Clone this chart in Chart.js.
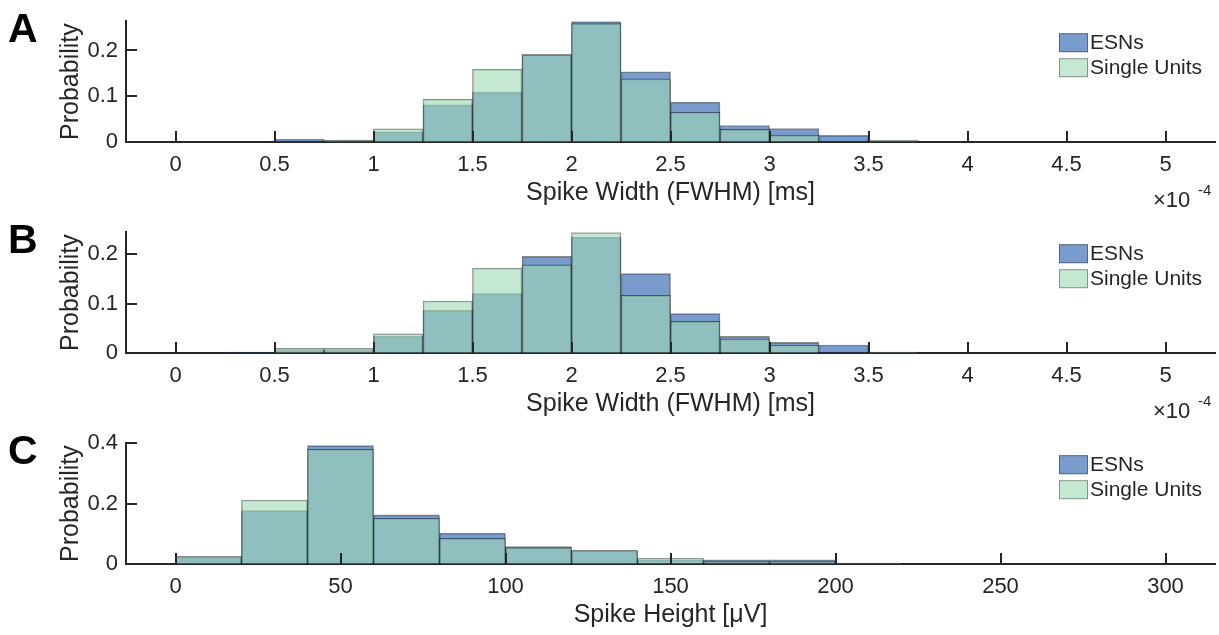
<!DOCTYPE html>
<html>
<head>
<meta charset="utf-8">
<title>Spike width / height histograms</title>
<script src="https://cdn.jsdelivr.net/npm/chart.js@4.4.0/dist/chart.umd.min.js"></script>
<style>
  html, body { margin: 0; padding: 0; background: #fff; overflow: hidden; width: 1219px; height: 635px; }
  canvas { position: absolute; left: 0; }
</style>
</head>
<body>
<canvas id="panelA" width="1219" height="220" style="top:0px"></canvas>
<canvas id="panelB" width="1219" height="220" style="top:211px"></canvas>
<canvas id="panelC" width="1219" height="220" style="top:422px"></canvas>
<script>
// ---- data ----
// spike width bins, left edges, x1e-4 ms, bin width 0.25
const widthBinStarts = [0.25, 0.5, 0.75, 1, 1.25, 1.5, 1.75, 2, 2.25, 2.5, 2.75, 3, 3.25, 3.5];
const widthTicks = [0, 0.5, 1, 1.5, 2, 2.5, 3, 3.5, 4, 4.5, 5];

// panel A
const esnWidthA = [0, 0.0065, 0.003, 0.022, 0.081, 0.109, 0.191, 0.263, 0.1535, 0.087, 0.036, 0.0296, 0.0145, 0];
const suWidthA  = [0, 0, 0.004, 0.029, 0.0935, 0.159, 0.191, 0.259, 0.138, 0.065, 0.0275, 0.015, 0, 0.004];
// panel B
const esnWidthB = [0.002, 0.006, 0.006, 0.0345, 0.0866, 0.1205, 0.196, 0.235, 0.161, 0.080, 0.034, 0.0217, 0.0163, 0];
const suWidthB  = [0, 0.0095, 0.0095, 0.039, 0.1055, 0.172, 0.179, 0.244, 0.117, 0.064, 0.0285, 0.0163, 0, 0.002];

// spike height bins, left edges, uV, bin width 20
const heightBinStarts = [0, 20, 40, 60, 80, 100, 120, 140, 160, 180, 200];
const heightTicks = [0, 50, 100, 150, 200, 250, 300];
const esnHeight = [0.023, 0.177, 0.392, 0.1625, 0.102, 0.058, 0.044, 0.014, 0.0135, 0.0135, 0.003];
const suHeight  = [0.025, 0.212, 0.380, 0.1515, 0.085, 0.054, 0.045, 0.020, 0.008, 0.008, 0.003];

const probTicksAB = [0, 0.1, 0.2];
const probTicksC = [0, 0.2, 0.4];

// ---- styling ----
const FONT = "'Liberation Sans', Arial, Helvetica, sans-serif";
const INK = '#262626';
const esnFill = 'rgba(32, 90, 170, 0.6)';
const suFill = 'rgba(158, 217, 182, 0.6)';
const edgeColor = 'rgba(0, 0, 0, 0.45)';

function toPoints(starts, binWidth, values) {
  return starts.map((s, i) => ({ x: s + binWidth / 2, y: values[i] }));
}

// inward ticks, legend, panel letter, exponent label
const panelExtras = {
  id: 'panelExtras',
  afterDraw(chart, args, opts) {
    const ctx = chart.ctx;
    const area = chart.chartArea;
    const xs = chart.scales.x, ys = chart.scales.y;
    ctx.save();
    ctx.strokeStyle = INK;
    ctx.lineWidth = 2;
    ctx.beginPath();
    xs.ticks.forEach(t => {
      const px = Math.round(xs.getPixelForValue(t.value));
      ctx.moveTo(px, area.bottom);
      ctx.lineTo(px, area.bottom - 11);
    });
    ys.ticks.forEach(t => {
      const py = Math.round(ys.getPixelForValue(t.value));
      ctx.moveTo(area.left, py);
      ctx.lineTo(area.left + 11, py);
    });
    ctx.stroke();

    // legend
    const lx = area.right - 156, ly = area.top + 12;
    ctx.font = '21px ' + FONT;
    ctx.textBaseline = 'middle';
    ctx.textAlign = 'left';
    chart.data.datasets.forEach((ds, i) => {
      const y = ly + i * 25;
      ctx.fillStyle = '#fff';
      ctx.fillRect(lx, y, 29, 19);
      ctx.fillStyle = ds.backgroundColor;
      ctx.fillRect(lx, y, 29, 19);
      ctx.strokeStyle = 'rgba(0,0,0,0.35)';
      ctx.lineWidth = 1;
      ctx.strokeRect(lx + 0.5, y + 0.5, 28, 18);
      ctx.fillStyle = INK;
      ctx.fillText(ds.label, lx + 31, y + 10);
    });

    // panel letter
    ctx.fillStyle = '#000';
    ctx.font = 'bold 41px ' + FONT;
    ctx.textBaseline = 'alphabetic';
    ctx.fillText(opts.letter, 8, 42);

    // x10^-4 multiplier
    if (opts.exponent) {
      ctx.fillStyle = INK;
      ctx.font = '22px ' + FONT;
      ctx.fillText('\u00d710', 1153, 207);
      ctx.font = '15px ' + FONT;
      ctx.fillText(opts.exponent, 1198, 195);
    }
    ctx.restore();
  }
};

function drawPanel(id, p) {
  return new Chart(document.getElementById(id), {
    type: 'bar',
    data: {
      datasets: [
        { label: 'ESNs', data: toPoints(p.bins, p.binWidth, p.esn), backgroundColor: esnFill, order: 2 },
        { label: 'Single Units', data: toPoints(p.bins, p.binWidth, p.su), backgroundColor: suFill, order: 1 }
      ]
    },
    options: {
      responsive: false,
      animation: false,
      events: [],
      layout: { padding: { top: 21, right: 4, bottom: 0, left: 0 } },
      datasets: {
        bar: {
          grouped: false,
          barPercentage: 1,
          categoryPercentage: 1,
          borderWidth: { top: 1, left: 1, right: 1, bottom: 0 },
          borderColor: edgeColor,
          borderSkipped: false
        }
      },
      plugins: {
        legend: { display: false },
        tooltip: { enabled: false },
        panelExtras: { letter: p.letter, exponent: p.exponent }
      },
      scales: {
        x: {
          type: 'linear',
          min: p.xMin,
          max: p.xMax,
          offset: false,
          z: 1,
          afterBuildTicks: s => { s.ticks = p.xTicks.map(v => ({ value: v })); },
          afterFit: s => { s.height = 78; },
          grid: { display: true, drawOnChartArea: false, drawTicks: false, offset: false },
          border: { display: true, color: INK, width: 2 },
          ticks: { autoSkip: false, maxRotation: 0, padding: 10, color: INK, font: { family: FONT, size: 22 }, callback: v => String(v) },
          title: { display: true, text: p.xTitle, color: INK, font: { family: FONT, size: 25 }, padding: { top: 0, bottom: 12 } }
        },
        y: {
          min: 0,
          max: p.yMax,
          z: 1,
          afterBuildTicks: s => { s.ticks = p.yTicks.map(v => ({ value: v })); },
          afterFit: s => { s.width = 126; },
          grid: { display: true, drawOnChartArea: false, drawTicks: false },
          border: { display: true, color: INK, width: 2 },
          ticks: { padding: 8, color: INK, font: { family: FONT, size: 22 }, callback: v => String(v) },
          title: { display: true, text: 'Probability', color: INK, font: { family: FONT, size: 25 }, padding: { top: 56, bottom: 0 } }
        }
      }
    },
    plugins: [panelExtras]
  });
}

drawPanel('panelA', {
  letter: 'A', exponent: '-4',
  bins: widthBinStarts, binWidth: 0.25, esn: esnWidthA, su: suWidthA,
  xMin: -0.25, xMax: 5.25, xTicks: widthTicks,
  yMax: 0.264, yTicks: probTicksAB,
  xTitle: 'Spike Width (FWHM) [ms]'
});

drawPanel('panelB', {
  letter: 'B', exponent: '-4',
  bins: widthBinStarts, binWidth: 0.25, esn: esnWidthB, su: suWidthB,
  xMin: -0.25, xMax: 5.25, xTicks: widthTicks,
  yMax: 0.245, yTicks: probTicksAB,
  xTitle: 'Spike Width (FWHM) [ms]'
});

drawPanel('panelC', {
  letter: 'C', exponent: null,
  bins: heightBinStarts, binWidth: 20, esn: esnHeight, su: suHeight,
  xMin: -15, xMax: 315, xTicks: heightTicks,
  yMax: 0.4, yTicks: probTicksC,
  xTitle: 'Spike Height [\u03bcV]'
});
</script>
</body>
</html>
